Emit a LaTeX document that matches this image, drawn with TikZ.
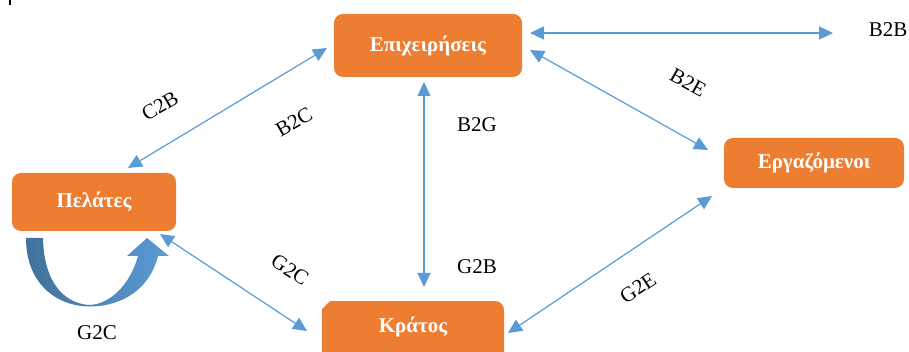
\documentclass[tikz,border=0pt]{standalone}
\usepackage{fontspec}
\setmainfont{Liberation Serif}
\usetikzlibrary{arrows.meta}
\definecolor{orng}{HTML}{ED7D31}
\definecolor{lblue}{HTML}{5B9BD5}
\definecolor{dblue}{HTML}{41719C}
\begin{document}
\begin{tikzpicture}[x=1pt,y=-1pt,
  box/.style={fill=orng, rounded corners=9pt, text=white, font=\fontsize{21}{24}\selectfont\bfseries, inner sep=0pt},
  boxtext/.style={text=white, font=\fontsize{21}{24}\selectfont\bfseries, inner sep=0pt},
  lbl/.style={font=\fontsize{21}{24}\selectfont, inner sep=0pt},
  link/.style={lblue, line width=1.2pt, {Triangle[length=14pt,width=13pt]}-{Triangle[length=14pt,width=13pt]}}]
\useasboundingbox (0,0) rectangle (909,352);
\clip (0,0) rectangle (909,352);
\fill[white] (0,0) rectangle (909,352);
% small mark top-left
\fill[black] (9,0) rectangle (11,5);
% boxes
\node[box, minimum width=188pt, minimum height=63pt] (epi) at (428,45.5) {Επιχειρήσεις};
\node[box, minimum width=164pt, minimum height=58pt] (pel) at (94,202) {Πελάτες};
\node[box, minimum width=180pt, minimum height=50pt] (erg) at (814,163) {Εργαζόμενοι};
\fill[orng] (322,365) -- (322,309) -- (330,301) -- (495,301) .. controls (500,301) and (504,305) .. (504,310) -- (504,365) -- cycle;
\node[boxtext] (kra) at (413,327) {Κράτος};
% connector ends
\coordinate (eB) at (530,33);
\coordinate (b2bend) at (833,33);
\coordinate (eP) at (327,48);
\coordinate (pE) at (128,168);
\coordinate (eK) at (424,82);
\coordinate (kE) at (424,287);
\coordinate (eR) at (530,50);
\coordinate (rE) at (708,150);
\coordinate (pK) at (160,234);
\coordinate (kP) at (307,331);
\coordinate (rK) at (712,196);
\coordinate (kR) at (508,333);
% connectors
\draw[link] (eB) -- (b2bend);
\draw[link] (eP) -- (pE);
\draw[link] (eK) -- (kE);
\draw[link] (eR) -- (rE);
\draw[link] (pK) -- (kP);
\draw[link] (rK) -- (kR);
% self loop under Pelates
\path[left color=dblue, right color=lblue]
  (26,238) .. controls (26,285) and (58,306.5) .. (90,306.5)
  .. controls (124,306) and (150,288) .. (158,256)
  -- (169,256) -- (147,238) -- (127,256) -- (138,256)
  .. controls (130,285) and (110,304) .. (90,305)
  .. controls (66,304) and (44,285) .. (43,238) -- cycle;
% labels
\node[lbl] (lb2b) at (888,30) {B2B};
\node[lbl, rotate=30] (lc2b) at (160,106) {C2B};
\node[lbl, rotate=30] (lb2c) at (294,122) {B2C};
\node[lbl] (lb2g) at (477,125) {B2G};
\node[lbl] (lg2b) at (477,267) {G2B};
\node[lbl, rotate=-29] (lb2e) at (688,83) {B2E};
\node[lbl, rotate=34] (lg2e) at (638,288) {G2E};
\node[lbl, rotate=-33] (lg2c) at (290,270) {G2C};
\node[lbl] (lg2cb) at (97,333) {G2C};
\end{tikzpicture}
\end{document}
